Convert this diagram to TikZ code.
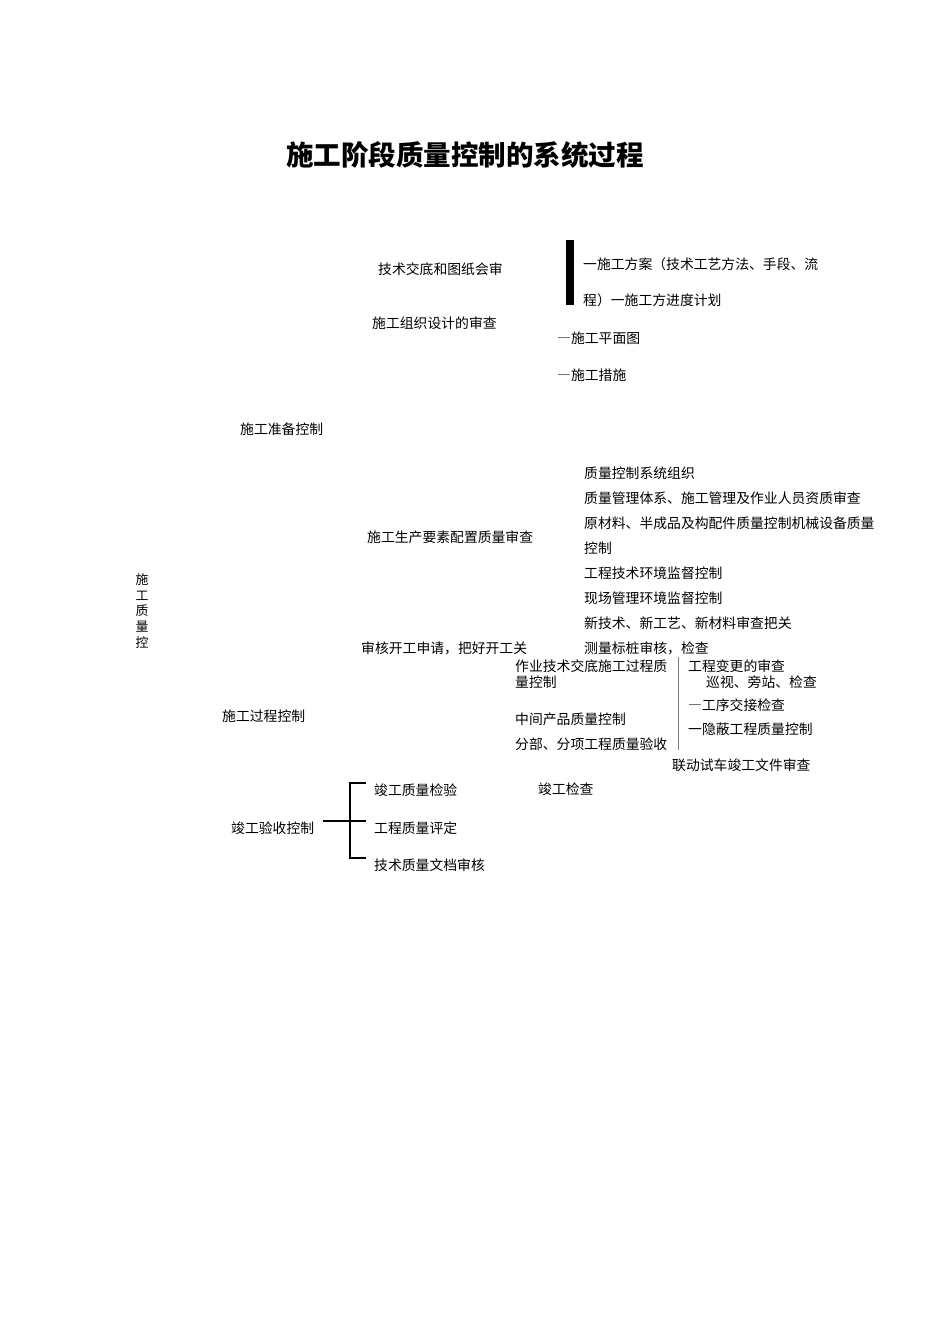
\documentclass[tikz,border=0pt]{standalone}
\usepackage{fontspec}
\newfontfamily\cjk{Noto Sans CJK SC}
\tikzset{tx/.style = {anchor=west, inner sep=0pt, font=\cjk\fontsize{11.8}{13}\selectfont},
           tt/.style = {inner sep=0pt, font=\cjk\bfseries\fontsize{23.5}{28}\selectfont}}
\begin{document}
\begin{tikzpicture}[x=0.3mm, y=-0.3mm]
    \useasboundingbox (0,0) rectangle (950,1344);
    \node[tt] (title) at (465,155) {施工阶段质量控制的系统过程};
    % preparation
    \node[tx] (prep) at (240,429) {施工准备控制};
    \node[tx] (jd)   at (378,269) {技术交底和图纸会审};
    \node[tx] (zz)   at (372,323) {施工组织设计的审查};
    \node[tx] (fa1)  at (583,264) {一施工方案（技术工艺方法、手段、流};
    \node[tx] (fa2)  at (583,300) {程）一施工方进度计划};
    \node[tx] (pm)   at (557,338) {―施工平面图};
    \node[tx] (cs)   at (557,375) {―施工措施};
    \coordinate (bt) at (570,240); \coordinate (bb) at (570,305);
    \draw[line width=2.4mm] (bt) -- (bb);
    \node[tx] (ys)   at (367,537) {施工生产要素配置质量审查};
    \node[tx] (kg)   at (361,648) {审核开工申请，把好开工关};
    \node[tx] (y1)   at (584,473) {质量控制系统组织};
    \node[tx] (y2)   at (584,498) {质量管理体系、施工管理及作业人员资质审查};
    \node[tx] (y3)   at (584,523) {原材料、半成品及构配件质量控制机械设备质量};
    \node[tx] (y4)   at (584,548) {控制};
    \node[tx] (y5)   at (584,573) {工程技术环境监督控制};
    \node[tx] (y6)   at (584,598) {现场管理环境监督控制};
    \node[tx] (y7)   at (584,623) {新技术、新工艺、新材料审查把关};
    \node[tx] (y8)   at (584,648) {测量标桩审核，检查};
    % root
    \node[inner sep=0pt, align=center, font=\cjk\fontsize{11}{13.6}\selectfont] (root) at (142,611) {施\\工\\质\\量\\控};
    % process
    \node[tx] (proc) at (222,716) {施工过程控制};
    \node[tx] (p1)   at (515,666) {作业技术交底施工过程质};
    \node[tx] (p2)   at (515,682) {量控制};
    \node[tx] (p3)   at (515,719) {中间产品质量控制};
    \node[tx] (p4)   at (515,744) {分部、分项工程质量验收};
    \coordinate (lt) at (678,657); \coordinate (lb) at (678,750);
    \draw[thin, gray] (lt) -- (lb);
    \node[tx] (q1)   at (688,666) {工程变更的审查};
    \node[tx] (q2)   at (706,682) {巡视、旁站、检查};
    \node[tx] (q3)   at (688,705) {―工序交接检查};
    \node[tx] (q4)   at (688,729) {一隐蔽工程质量控制};
    \node[tx] (q5)   at (672,765) {联动试车竣工文件审查};
    % completion
    \node[tx] (comp) at (231,828) {竣工验收控制};
    \node[tx] (c1)   at (374,790) {竣工质量检验};
    \node[tx] (c2)   at (374,828) {工程质量评定};
    \node[tx] (c3)   at (374,865) {技术质量文档审核};
    \node[tx] (c4)   at (538,789) {竣工检查};
    \coordinate (kt) at (350,783); \coordinate (kb) at (350,858); \coordinate (km) at (350,821);
    \coordinate (ks) at (323,821); \coordinate (ke) at (366,821);
    \draw[line width=1.1pt] (kt -| ke) -- (kt) -- (kb) -- (kb -| ke);
    \draw[line width=2pt] (ks) -- (ke);
\end{tikzpicture}
\end{document}
